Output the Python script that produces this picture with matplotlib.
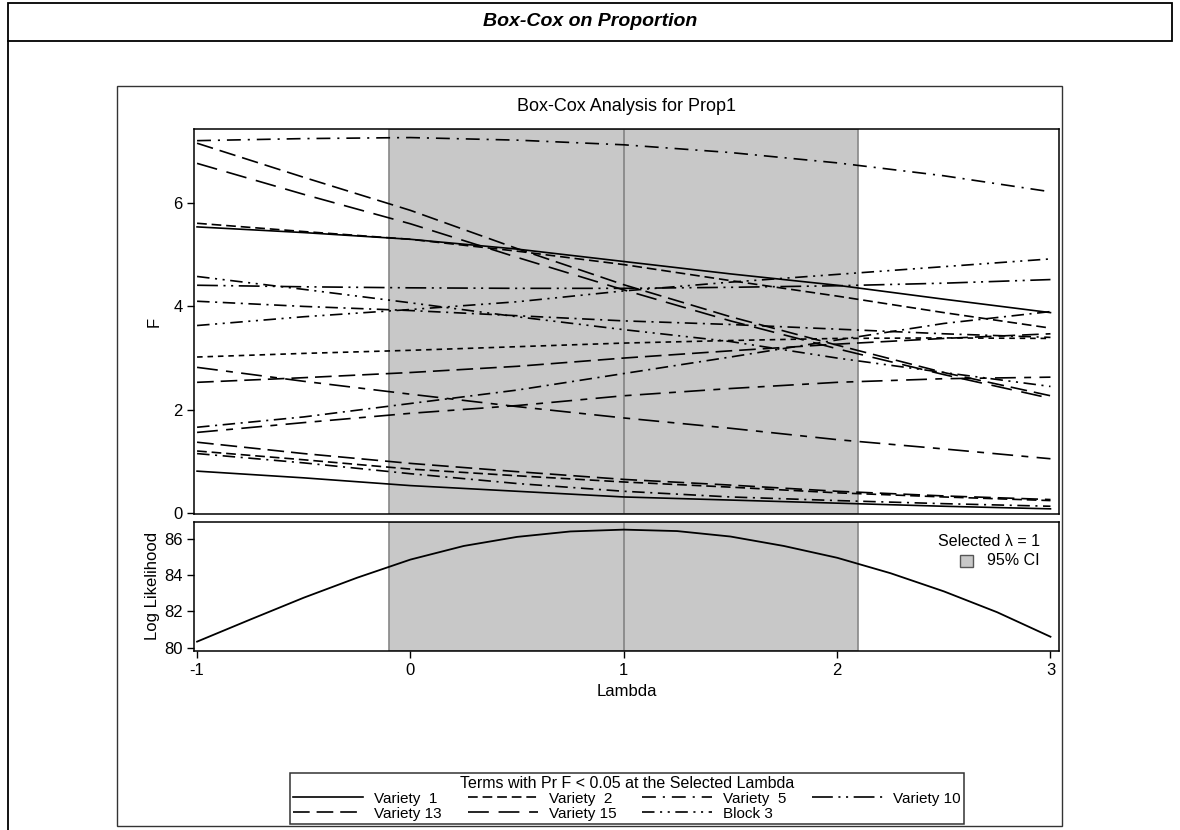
import matplotlib
matplotlib.use('Agg')
import matplotlib.pyplot as plt
from matplotlib.patches import Rectangle
from matplotlib.lines import Line2D

plt.rcParams['font.family'] = ['Liberation Sans', 'DejaVu Sans']
plt.rcParams['lines.scale_dashes'] = False
plt.rcParams['axes.unicode_minus'] = False

# lambda grid for the F curves
lam = [-1, -0.5, 0, 0.5, 1, 1.5, 2, 2.5, 3]

# F statistic for each term
f_variety1 = [5.54, 5.43, 5.30, 5.11, 4.87, 4.63, 4.41, 4.14, 3.88]
f_variety2 = [5.61, 5.45, 5.30, 5.07, 4.81, 4.50, 4.20, 3.88, 3.58]
f_variety3 = [4.58, 4.33, 4.07, 3.80, 3.55, 3.32, 3.00, 2.72, 2.45]
f_variety4 = [4.10, 4.00, 3.92, 3.82, 3.72, 3.65, 3.56, 3.47, 3.40]
f_variety5 = [7.21, 7.25, 7.27, 7.22, 7.13, 6.98, 6.78, 6.53, 6.22]
f_variety6 = [3.02, 3.09, 3.15, 3.22, 3.29, 3.34, 3.38, 3.39, 3.38]
f_variety7 = [2.82, 2.55, 2.30, 2.06, 1.84, 1.64, 1.42, 1.24, 1.05]
f_variety8 = [2.53, 2.62, 2.72, 2.84, 3.00, 3.14, 3.27, 3.38, 3.47]
f_variety9 = [1.66, 1.86, 2.12, 2.38, 2.70, 3.02, 3.35, 3.67, 3.90]
f_variety10 = [4.41, 4.38, 4.36, 4.35, 4.35, 4.37, 4.40, 4.45, 4.52]
f_variety11 = [1.56, 1.75, 1.93, 2.08, 2.27, 2.41, 2.53, 2.60, 2.63]
f_variety12 = [1.37, 1.15, 0.96, 0.80, 0.65, 0.54, 0.42, 0.33, 0.26]
f_variety13 = [7.16, 6.50, 5.86, 5.12, 4.42, 3.80, 3.25, 2.72, 2.27]
f_variety14 = [1.20, 1.03, 0.85, 0.72, 0.60, 0.50, 0.39, 0.31, 0.24]
f_variety15 = [6.77, 6.17, 5.60, 4.95, 4.32, 3.72, 3.18, 2.68, 2.22]
f_block1 = [1.15, 0.97, 0.76, 0.57, 0.42, 0.31, 0.24, 0.18, 0.13]
f_block2 = [0.81, 0.68, 0.53, 0.42, 0.31, 0.25, 0.19, 0.13, 0.08]
f_block3 = [3.63, 3.80, 3.94, 4.09, 4.30, 4.47, 4.62, 4.77, 4.92]

# log likelihood curve
ll_lam = [-1, -0.75, -0.5, -0.25, 0, 0.25, 0.5, 0.75, 1,
          1.25, 1.5, 1.75, 2, 2.25, 2.5, 2.75, 3]
loglik = [80.33, 81.55, 82.75, 83.85, 84.85, 85.6, 86.1, 86.4, 86.5,
          86.42, 86.12, 85.6, 84.95, 84.1, 83.1, 81.95, 80.6]

ci_low, ci_high = -0.1, 2.1
selected = 1

# line patterns (points)
solid = '-'
dash = (0, (7, 3.5))
dashdashdot = (0, (10, 5, 1.5, 5))
dashdotdot = (0, (9, 4, 1.5, 4, 1.5, 4))
longdashdotdot = (0, (15, 4, 1.5, 4, 1.5, 4))
longdash = (0, (12, 5))
longerdash = (0, (15, 7))
shortdash = (0, (4, 3.5))
ldsd = (0, (15, 6, 5, 6))
dashdot = (0, (9, 4, 1.5, 4))

series = [
    ('Variety  1', f_variety1, solid),
    ('Variety  2', f_variety2, dash),
    ('Variety  3', f_variety3, dashdotdot),
    ('Variety  4', f_variety4, dashdot),
    ('Variety  5', f_variety5, dashdashdot),
    ('Variety  6', f_variety6, shortdash),
    ('Variety  7', f_variety7, ldsd),
    ('Variety  8', f_variety8, longdash),
    ('Variety  9', f_variety9, dashdot),
    ('Variety 10', f_variety10, longdashdotdot),
    ('Variety 11', f_variety11, ldsd),
    ('Variety 12', f_variety12, longdash),
    ('Variety 13', f_variety13, longdash),
    ('Variety 14', f_variety14, dash),
    ('Variety 15', f_variety15, longerdash),
    ('Block 1', f_block1, dashdot),
    ('Block 2', f_block2, solid),
    ('Block 3', f_block3, dashdotdot),
]
# column-major order so the legend reads row by row
legend_order = ['Variety  1', 'Variety 13', 'Variety  2', 'Variety 15',
                'Variety  5', 'Block 3', 'Variety 10']

fig = plt.figure(figsize=(11.8, 8.3), dpi=100)
W, H = 1180, 830

def px_axes(x0, y0, x1, y1):
    return fig.add_axes([x0 / W, 1 - y1 / H, (x1 - x0) / W, (y1 - y0) / H])

# page decorations
fig.add_artist(Rectangle((8 / W, 1 - 41 / H), 1164 / W, 38 / H, transform=fig.transFigure,
                         fill=False, edgecolor='black', lw=1.3))
fig.add_artist(Line2D([8 / W, 8 / W], [0, 1 - 41 / H], transform=fig.transFigure,
                      color='black', lw=1.3))
fig.text(590 / W, 1 - 22 / H, 'Box-Cox on Proportion', ha='center', va='center',
         fontsize=14, fontweight='bold', fontstyle='italic')
fig.add_artist(Rectangle((117 / W, 1 - 826 / H), 945 / W, 740 / H, transform=fig.transFigure,
                         fill=False, edgecolor='#333333', lw=1))

ax1 = px_axes(194.3, 129.3, 1059, 514)
ax2 = px_axes(194.3, 522, 1059, 650.7)

for ax in (ax1, ax2):
    ax.axvspan(ci_low, ci_high, facecolor='#c8c8c8', edgecolor='#888888', lw=1.2, zorder=0)
    ax.axvline(selected, color='#888888', lw=1.3, zorder=1)
    ax.set_xlim(-1.013, 3.04)
    for s in ax.spines.values():
        s.set_color('black')
        s.set_linewidth(1.1)
    ax.tick_params(direction='out', length=5, width=1, labelsize=12, colors='black')

handles = {}
for name, vals, ls in series:
    ln, = ax1.plot(lam, vals, color='black', lw=1.2, linestyle=ls, zorder=3)
    handles[name] = ln

ax1.set_ylim(-0.02, 7.43)
ax1.set_yticks([0, 2, 4, 6])
ax1.set_xticks([])
ax1.set_ylabel('F', fontsize=12, labelpad=8)
ax1.set_title('Box-Cox Analysis for Prop1', fontsize=13, pad=13)

ax2.plot(ll_lam, loglik, color='black', lw=1.3, zorder=3)
ax2.set_ylim(79.83, 86.92)
ax2.set_yticks([80, 82, 84, 86])
ax2.set_xticks([-1, 0, 1, 2, 3])
ax2.set_ylabel('Log Likelihood', fontsize=12, labelpad=3)
ax2.set_xlabel('Lambda', fontsize=12, labelpad=5)

ax2.text(0.978, 0.85, 'Selected \u03bb = 1', transform=ax2.transAxes, ha='right',
         va='center', fontsize=11.5)
ax2.add_patch(Rectangle((0.886, 0.648), 0.014, 0.095, transform=ax2.transAxes,
                        facecolor='#c8c8c8', edgecolor='#555555', lw=1, zorder=5))
ax2.text(0.978, 0.697, '95% CI', transform=ax2.transAxes, ha='right', va='center',
         fontsize=11.5)

leg = fig.legend([handles[n] for n in legend_order], legend_order, ncol=4,
                 loc='upper center', bbox_to_anchor=(627 / W, 1 - 773 / H),
                 title='Terms with Pr F < 0.05 at the Selected Lambda',
                 fontsize=11, title_fontsize=11.5, frameon=True, fancybox=False,
                 edgecolor='black', handlelength=4.6, columnspacing=1.7,
                 handletextpad=0.7, labelspacing=0.05, borderpad=0.2,
                 borderaxespad=0)
leg.get_frame().set_linewidth(1.1)

fig.savefig('out.png', dpi=100)
